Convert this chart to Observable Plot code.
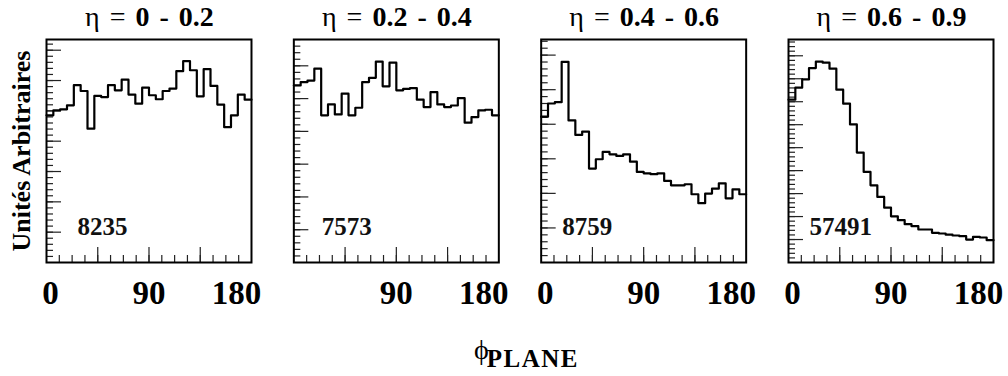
<!DOCTYPE html>
<html><head><meta charset="utf-8">
<script src="https://cdn.jsdelivr.net/npm/d3@7"></script>
<script src="https://cdn.jsdelivr.net/npm/@observablehq/plot@0.6"></script>
<style>
body{margin:0;background:#fff;}
#wrap{position:relative;width:1008px;height:376px;font-family:'Liberation Serif',serif;color:#000;overflow:hidden;}
#wrap svg{position:absolute;left:0;top:0;}
.title{position:absolute;top:3px;font-family:'Liberation Serif',serif;font-size:28px;word-spacing:3px;line-height:1;white-space:nowrap;transform:translateX(-50%);}
.title b{font-weight:bold;}
#xtitle{position:absolute;left:474px;top:336px;font-family:'Liberation Serif',serif;font-size:28px;line-height:1;white-space:nowrap;}
#xtitle span{font-size:25px;font-weight:bold;letter-spacing:1.5px;position:relative;top:8px;margin-left:-2px;}
</style></head><body><div id="wrap"></div>
<script>
// ---- data ----
const etaRanges = ["0 - 0.2", "0.2 - 0.4", "0.4 - 0.6", "0.6 - 0.9"];
const panels = etaRanges.map(r => "η = " + r);
const counts = ["8235", "7573", "8759", "57491"];
const xTickLabels = [0, 90, 180];
const yTitle = "Unités Arbitraires";
const xTitleSymbol = "ϕ";
const xTitleSub = "PLANE";
// y values, arbitrary units (0-100 = full frame height), 30 bins of 6 degrees
const eta0_02 = [66.0, 68.2, 68.7, 70.5, 79.5, 76.9, 60.0, 74.7, 74.2, 79.5, 77.2, 82.0, 75.3, 71.2, 78.4,
                 75.0, 73.2, 76.9, 78.0, 85.8, 90.3, 86.2, 74.5, 86.7, 79.2, 70.8, 60.7, 66.0, 75.3, 73.0];
const eta02_04 = [79.4, 80.9, 81.6, 86.9, 66.0, 70.9, 66.4, 75.7, 66.0, 69.4, 80.9, 82.8, 90.1, 79.0, 89.6,
                  77.2, 77.9, 78.2, 73.0, 69.7, 76.4, 70.9, 69.7, 70.4, 73.7, 62.7, 65.2, 68.2, 68.5, 66.0];
const eta04_06 = [65.4, 71.3, 71.9, 90.0, 63.7, 57.2, 58.7, 42.1, 46.3, 49.6, 48.5, 47.8, 48.5, 45.2, 40.6,
                  40.0, 39.6, 40.0, 36.6, 34.6, 34.6, 35.1, 30.6, 26.6, 30.9, 33.1, 35.5, 28.8, 32.8, 30.6];
const eta06_09 = [73.0, 78.4, 82.1, 87.2, 90.1, 89.6, 86.9, 77.5, 71.2, 61.9, 49.3, 40.6, 34.6, 29.4, 24.6,
                  20.7, 19.0, 17.2, 16.3, 14.8, 14.8, 13.3, 13.0, 12.5, 12.1, 11.8, 10.3, 11.5, 11.2, 10.0];
const series = [eta0_02, eta02_04, eta04_06, eta06_09];
const binWidth = 6;
// y-axis major tick step per panel (5 subdivisions)
const yMajorStep = [13.6, 14.7, 15.5, 10.3];
const xMajorTicks = [45, 90, 135];
const xMinorStep = 11.25;

// ---- layout ----
const W = 1008, H = 376, mL = 46, mR = 15, mT = 39, mB = 114;
const plotH = H - mT - mB;
const padIn = 0.1712;
const step = (W - mL - mR) / (panels.length - padIn);
const bw = step * (1 - padIn);
const xLabelDx = [4, 0, -15];
const countDx = [31, 28, 21, 21];
const FONT = "'Liberation Serif', serif";

// ---- tables ----
const lineRows = panels.flatMap((p, i) => {
  const vals = series[i];
  const rows = vals.map((v, j) => ({panel: p, x: j * binWidth, v}));
  rows.push({panel: p, x: vals.length * binWidth, v: vals[vals.length - 1]});
  return rows;
});
const yTicks = (div) => panels.flatMap((p, i) => {
  const s = yMajorStep[i] / div;
  return d3.range(s, 100, s).map(y => ({panel: p, y}));
});
const xMinor = d3.range(xMinorStep, 180, xMinorStep);
const tickLabelRows = panels.flatMap((p, i) =>
  xTickLabels.filter(t => !(i === 1 && t === 0)).map(t => ({panel: p, x: t, label: String(t)})));

const marks = [
  Plot.ruleX(xMinor, {x: d => d, insetTop: plotH - 7, stroke: "#222", strokeWidth: 1.2}),
  Plot.ruleX(xMajorTicks, {x: d => d, insetTop: plotH - 15, stroke: "#222", strokeWidth: 1.2}),
  Plot.ruleY(yTicks(5), {fx: "panel", y: "y", insetRight: bw - 7, stroke: "#222", strokeWidth: 1.2}),
  Plot.ruleY(yTicks(1), {fx: "panel", y: "y", insetRight: bw - 15, stroke: "#222", strokeWidth: 1.2}),
  Plot.line(lineRows, {fx: "panel", x: "x", y: "v", curve: "step-after", stroke: "black", strokeWidth: 2.2}),
  Plot.frame({stroke: "black", strokeWidth: 2}),
  ...xTickLabels.map((t, k) => Plot.text(tickLabelRows.filter(r => r.x === t), {
    fx: "panel", x: "x", text: "label", frameAnchor: "bottom", lineAnchor: "bottom",
    dy: 41, dx: xLabelDx[k], fontSize: 33, fontWeight: "bold", fontFamily: FONT, fill: "black"
  })),
  ...panels.map((p, i) => Plot.text([counts[i]], {
    fx: [p], text: d => d, frameAnchor: "bottom-left", textAnchor: "start", lineAnchor: "bottom",
    dx: countDx[i], dy: -28, fontSize: 25, fontWeight: "bold", fontFamily: FONT, fill: "#111"
  })),
  Plot.text([yTitle], {
    fx: [panels[0]], text: d => d, frameAnchor: "left", textAnchor: "middle", lineAnchor: "bottom",
    rotate: -90, dx: -17, fontSize: 26, fontWeight: "bold", fontFamily: FONT, fill: "black"
  })
];

const chart = Plot.plot({
  width: W, height: H, marginLeft: mL, marginRight: mR, marginTop: mT, marginBottom: mB,
  fx: {domain: panels, axis: null, paddingInner: padIn, paddingOuter: 0, round: false},
  x: {domain: [0, 180], axis: null},
  y: {domain: [0, 100], axis: null},
  style: {fontFamily: FONT, background: "transparent", overflow: "visible"},
  marks
});

const wrap = document.getElementById("wrap");
wrap.appendChild(chart);
panels.forEach((p, i) => {
  const d = document.createElement("div");
  d.className = "title";
  d.style.left = (mL + i * step + bw / 2 + 1) + "px";
  d.innerHTML = "η = <b>" + etaRanges[i] + "</b>";
  wrap.appendChild(d);
});
const xt = document.createElement("div");
xt.id = "xtitle";
xt.innerHTML = xTitleSymbol + "<span>" + xTitleSub + "</span>";
wrap.appendChild(xt);
</script></body></html>
